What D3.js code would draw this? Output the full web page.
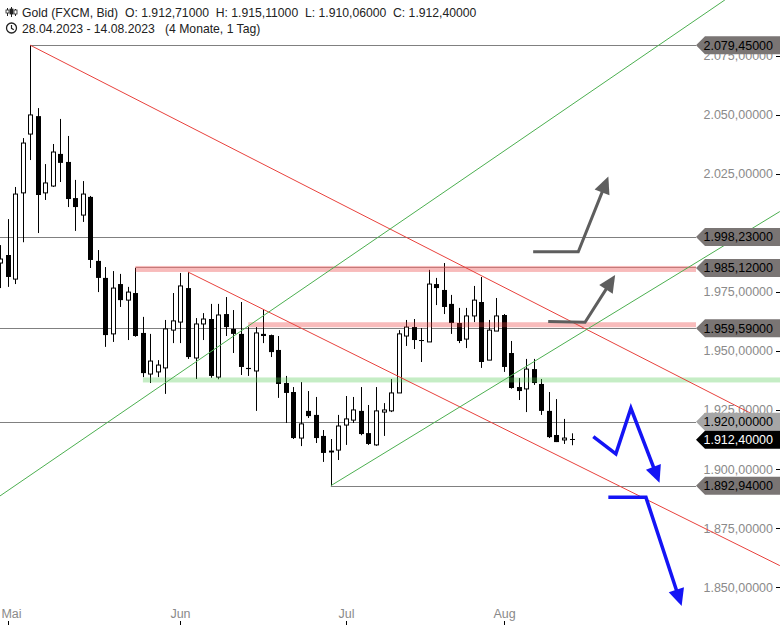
<!DOCTYPE html>
<html>
<head>
<meta charset="utf-8">
<script src="https://cdn.jsdelivr.net/npm/d3@7"></script>
<style>
  body { margin: 0; background: #fff; }
  svg { display: block; font-family: "Liberation Sans", Arial, sans-serif; }
</style>
</head>
<body>
<svg width="780" height="625"></svg>
<script>
// daily candles, 28.04.2023 - 14.08.2023 (trading days)
var opens  = [1987.2,1990.6,1980.4,2016.9,2041.8,2049.4,2016.9,2019.8,2033.4,2030.0,2014.7,2007.5,2015.2,1988.1,1980.9,1957.2,1978.3,1971.5,1974.5,1957.6,
              1940.2,1941.1,1942.8,1958.8,1962.2,1976.6,1947.0,1961.4,1963.5,1938.9,1965.6,1959.3,1957.2,1942.8,1941.5,1957.2,1956.7,1950.4,1936.4,1932.6,
              1913.1,1924.6,1922.9,1914.0,1907.8,1908.0,1918.6,1920.7,1924.6,1915.2,1910.2,1924.1,1924.6,1932.2,1956.3,1960.1,1954.6,1953.8,1978.3,1975.8,
              1969.9,1961.8,1955.0,1964.8,1970.7,1946.1,1958.4,1965.2,1949.1,1934.7,1933.9,1942.3,1936.0,1924.6,1914.4,1912.3,1912.71];
var highs  = [1994.8,2005.8,2019.4,2040.1,2079.45,2052.8,2029.1,2037.6,2048.2,2041.0,2022.4,2021.9,2015.6,1992.7,1985.5,1983.8,1982.6,1977.1,1985.12,1964.4,
              1957.2,1946.1,1963.1,1974.5,1983.0,1983.4,1963.9,1966.0,1969.9,1969.9,1972.8,1967.3,1970.7,1960.1,1960.1,1967.7,1956.9,1956.3,1939.4,1934.7,
              1936.8,1933.0,1930.5,1916.5,1912.7,1922.9,1930.9,1930.5,1934.7,1927.1,1934.7,1927.9,1938.1,1958.8,1963.1,1963.5,1959.7,1984.3,1980.9,1987.2,
              1973.7,1968.2,1968.2,1977.5,1981.3,1963.1,1972.4,1965.6,1954.2,1938.5,1946.6,1946.6,1938.1,1932.6,1929.6,1921.2,1915.11];
var lows   = [1976.6,1977.1,1978.3,1996.0,2030.8,1999.9,2013.9,2019.4,2021.5,2010.9,2000.8,2004.6,1985.1,1974.9,1951.7,1953.8,1968.6,1954.6,1956.0,1938.9,
              1936.4,1938.9,1931.8,1953.3,1953.3,1946.6,1938.1,1954.6,1938.6,1938.0,1956.3,1949.1,1939.8,1939.4,1924.6,1953.3,1947.4,1930.1,1919.5,1912.7,
              1909.7,1921.6,1911.0,1903.0,1892.94,1903.8,1910.2,1919.5,1914.3,1910.2,1909.8,1914.0,1924.1,1932.2,1952.1,1950.8,1945.3,1953.8,1969.4,1965.6,
              1957.2,1953.3,1951.2,1962.2,1942.8,1946.1,1958.4,1941.1,1934.0,1929.2,1924.1,1935.6,1922.9,1913.1,1911.4,1910.6,1910.06];
var closes = [1988.9,1981.3,2016.4,2038.0,2049.9,2016.0,2021.1,2034.2,2029.6,2014.3,2010.9,2016.4,1988.5,1980.9,1956.7,1976.6,1971.5,1974.9,1956.3,1940.6,
              1945.7,1944.0,1959.3,1962.7,1977.5,1947.4,1961.4,1963.5,1939.4,1965.2,1960.1,1957.2,1943.2,1942.3,1957.6,1956.3,1949.5,1936.0,1932.2,1913.1,
              1919.1,1922.4,1913.1,1906.8,1907.0,1918.2,1921.2,1925.0,1914.8,1910.6,1924.6,1925.0,1932.2,1957.2,1960.1,1954.6,1954.2,1978.3,1976.6,1968.6,
              1961.8,1954.2,1964.8,1971.5,1945.3,1958.8,1964.8,1943.2,1934.3,1933.0,1942.3,1936.4,1924.6,1913.5,1911.4,1913.1,1912.40];

var firstDay = new Date(2023, 3, 28), lastDay = new Date(2023, 7, 14);
var monthNames = ["Mai", "Jun", "Jul", "Aug"];
var yTicks = [1850, 1875, 1900, 1925, 1950, 1975, 2000, 2025, 2050, 2075];

// horizontal levels: [price, start index]
var grayLevels = [[2079.45, 4], [1998.23, -1], [1959.59, -1], [1920.00, -1], [1892.94, 44]];
var pinkZones  = [[1985.12, 18], [1959.59, 33]];
var greenZone  = [1937.7, 19];
// trend lines, [index, price] pairs
var redLines   = [[[4, 2079.45], [103.7, 1917.3]], [[25, 1983.4], [103.7, 1859.1]]];
var greenLines = [[[0, 1888.6], [96.4, 2098.6]], [[44, 1892.94], [103.7, 2009.0]]];
// hand-drawn scenario arrows
var grayArrows = [[[70.9, 1992.0], [76.9, 1992.0], [80.9, 2023.8]],
                  [[72.9, 1962.4], [77.8, 1962.1], [81.8, 1982.1]]];
var blueArrows = [[[78.9, 1913.7], [81.9, 1906.4], [83.9, 1925.7], [87.7, 1894.2]],
                  [[80.9, 1888.0], [85.9, 1888.0], [90.65, 1842.0]]];
// price tags on the right
var tags = [[2079.45, "#7a7574", "#000"], [1998.23, "#7a7574", "#000"], [1985.12, "#7a7574", "#000"],
            [1959.59, "#7a7574", "#000"], [1920.00, "#a6a6a6", "#000"], [1912.40, "#000", "#fff"],
            [1892.94, "#7a7574", "#000"]];

var de = d3.formatLocale({decimal: ",", thousands: ".", grouping: [3], currency: ["", "€"]});
var fmt = de.format(",.5f");

var days = d3.timeDay.range(firstDay, d3.timeDay.offset(lastDay, 1))
  .filter(function(d) { return d.getDay() != 0 && d.getDay() != 6; });

var svg = d3.select("svg");
var x = d3.scaleLinear().domain([0, 76]).range([0, 571.5]);
var y = d3.scaleLinear().domain([1900, 2000]).range([469, 232.8]);
var tagX = 696;

// y tick labels
var yAxis = svg.append("g");
yAxis.selectAll("text").data(yTicks).enter().append("text")
  .attr("x", 773).attr("y", function(d) { return y(d) + 4.5; })
  .attr("text-anchor", "end").attr("font-size", 12.5).attr("fill", "#8a8a8a")
  .text(function(d) { return fmt(d); });
yAxis.selectAll("line").data(yTicks).enter().append("line")
  .attr("x1", 776).attr("x2", 780)
  .attr("y1", function(d) { return Math.round(y(d)) + 0.5; })
  .attr("y2", function(d) { return Math.round(y(d)) + 0.5; })
  .attr("stroke", "#000");

// x axis: first trading day of each month
var monthStarts = [];
days.forEach(function(d, i) {
  if (i == 0 || d.getMonth() != days[i - 1].getMonth()) {
    if (d.getDate() < 10) monthStarts.push(i);
  }
});
var xAxis = svg.append("g");
monthStarts.forEach(function(mi, k) {
  var px = Math.round(x(mi)) + 0.5;
  xAxis.append("line").attr("x1", px).attr("x2", px).attr("y1", 621).attr("y2", 625).attr("stroke", "#000");
  xAxis.append("text").attr("x", Math.max(px, 11.5)).attr("y", 618)
    .attr("text-anchor", "middle").attr("font-size", 12.5).attr("fill", "#8a8a8a")
    .text(monthNames[k]);
});

// gray horizontal levels
svg.append("g").selectAll("line").data(grayLevels).enter().append("line")
  .attr("x1", function(d) { return d[1] < 0 ? 0 : x(d[1]); })
  .attr("x2", tagX)
  .attr("y1", function(d) { return Math.round(y(d[0])) + 0.5; })
  .attr("y2", function(d) { return Math.round(y(d[0])) + 0.5; })
  .attr("stroke", "#808080").attr("stroke-width", 1);

// candles
var candles = svg.append("g").selectAll("g").data(opens).enter().append("g");
candles.append("line")
  .attr("x1", function(d, i) { return Math.round(x(i)) + 0.5; })
  .attr("x2", function(d, i) { return Math.round(x(i)) + 0.5; })
  .attr("y1", function(d, i) { return y(highs[i]); })
  .attr("y2", function(d, i) { return y(lows[i]); })
  .attr("stroke", "#000");
candles.append("rect")
  .attr("x", function(d, i) { return closes[i] >= d ? Math.round(x(i)) - 1.5 : Math.round(x(i)) - 2; })
  .attr("width", function(d, i) { return closes[i] >= d ? 4 : 5; })
  .attr("y", function(d, i) { return y(Math.max(d, closes[i])); })
  .attr("height", function(d, i) { return Math.max(1, Math.abs(y(d) - y(closes[i]))); })
  .attr("fill", function(d, i) { return closes[i] >= d ? "#fff" : "#000"; })
  .attr("stroke", function(d, i) { return closes[i] >= d ? "#000" : "none"; });

// zones (the upper one straddles its line, the lower one sits just above it)
var zoneShift = [-2, -6];
svg.append("g").selectAll("rect").data(pinkZones).enter().append("rect")
  .attr("x", function(d) { return x(d[1]); })
  .attr("width", function(d) { return tagX - x(d[1]); })
  .attr("y", function(d, i) { return y(d[0]) + zoneShift[i]; })
  .attr("height", function(d, i) { return i == 0 ? 6 : 5; })
  .attr("fill", "rgb(235,60,60)").attr("opacity", 0.35);
svg.append("rect")
  .attr("x", x(greenZone[1])).attr("width", 780 - x(greenZone[1]))
  .attr("y", y(greenZone[0]) - 2.5).attr("height", 5)
  .attr("fill", "rgb(80,200,80)").attr("opacity", 0.33);
svg.append("line")
  .attr("x1", x(18)).attr("x2", tagX)
  .attr("y1", Math.round(y(1985.12)) - 0.5).attr("y2", Math.round(y(1985.12)) - 0.5)
  .attr("stroke", "#a05050").attr("stroke-width", 1).attr("opacity", 0.6);

// trend lines
var line = d3.line().x(function(d) { return x(d[0]); }).y(function(d) { return y(d[1]); });
svg.append("g").selectAll("path").data(redLines).enter().append("path")
  .attr("d", line).attr("fill", "none").attr("stroke", "#e8413c").attr("stroke-width", 1);
svg.append("g").selectAll("path").data(greenLines).enter().append("path")
  .attr("d", line).attr("fill", "none").attr("stroke", "#4caf50").attr("stroke-width", 1);

// arrows
function drawArrow(pts, color, w) {
  var n = pts.length;
  var tip = [x(pts[n - 1][0]), y(pts[n - 1][1])];
  var prev = [x(pts[n - 2][0]), y(pts[n - 2][1])];
  var dx = tip[0] - prev[0], dy = tip[1] - prev[1];
  var len = Math.sqrt(dx * dx + dy * dy);
  var ux = dx / len, uy = dy / len;
  var hl = 17, hw = 8;
  var base = [tip[0] - ux * hl, tip[1] - uy * hl];
  var shaft = pts.slice(0, n - 1).map(function(p) { return [x(p[0]), y(p[1])]; });
  shaft.push([tip[0] - ux * (hl - 3), tip[1] - uy * (hl - 3)]);
  svg.append("path")
    .attr("d", d3.line()(shaft))
    .attr("fill", "none").attr("stroke", color).attr("stroke-width", w)
    .attr("stroke-linejoin", "miter");
  svg.append("path")
    .attr("d", "M" + tip[0] + "," + tip[1] +
      "L" + (base[0] - uy * hw) + "," + (base[1] + ux * hw) +
      "L" + (base[0] + uy * hw) + "," + (base[1] - ux * hw) + "Z")
    .attr("fill", color);
}
grayArrows.forEach(function(a) { drawArrow(a, "#5e5e5e", 3); });
blueArrows.forEach(function(a) { drawArrow(a, "#1414f5", 3.5); });

// price tags
var tg = svg.append("g").selectAll("g").data(tags).enter().append("g")
  .attr("transform", function(d) { return "translate(0," + y(d[0]) + ")"; });
tg.append("path")
  .attr("d", "M" + tagX + ",0L" + (tagX + 9) + ",-9L780,-9L780,9L" + (tagX + 9) + ",9Z")
  .attr("fill", function(d) { return d[1]; });
tg.append("text")
  .attr("x", 773).attr("y", 4.5).attr("text-anchor", "end").attr("font-size", 12.5)
  .attr("fill", function(d) { return d[2]; })
  .text(function(d) { return fmt(d[0]); });

// header
var head = svg.append("g");
head.append("text").attr("x", 22).attr("y", 16.5).attr("font-size", 12.2).attr("fill", "#222")
  .attr("xml:space", "preserve")
  .text("Gold (FXCM, Bid)  O: " + fmt(opens[76]) + "  H: " + fmt(highs[76]) +
        "  L: " + fmt(lows[76]) + "  C: " + fmt(closes[76]));
head.append("text").attr("x", 22).attr("y", 32.5).attr("font-size", 12.2).attr("fill", "#222")
  .attr("xml:space", "preserve")
  .text(d3.timeFormat("%d.%m.%Y")(firstDay) + " - " + d3.timeFormat("%d.%m.%Y")(lastDay) + "   (4 Monate, 1 Tag)");
// small candle icon
[[7, 8, 16, 10, 13], [11, 7, 17, 9, 14], [15, 9, 16, 10, 14]].forEach(function(c) {
  head.append("line").attr("x1", c[0] + 0.5).attr("x2", c[0] + 0.5).attr("y1", c[1]).attr("y2", c[2])
    .attr("stroke", "#222");
  head.append("rect").attr("x", c[0] - 1).attr("y", c[3]).attr("width", 3).attr("height", c[4] - c[3])
    .attr("fill", c[0] == 11 ? "#222" : "#fff").attr("stroke", "#222").attr("stroke-width", 0.8);
});
// clock icon
head.append("circle").attr("cx", 11.5).attr("cy", 28).attr("r", 5).attr("fill", "none")
  .attr("stroke", "#222").attr("stroke-width", 1.3);
head.append("path").attr("d", "M11.5,25 L11.5,28.3 L13.8,29.8").attr("fill", "none")
  .attr("stroke", "#222").attr("stroke-width", 1.2);
</script>
</body>
</html>
